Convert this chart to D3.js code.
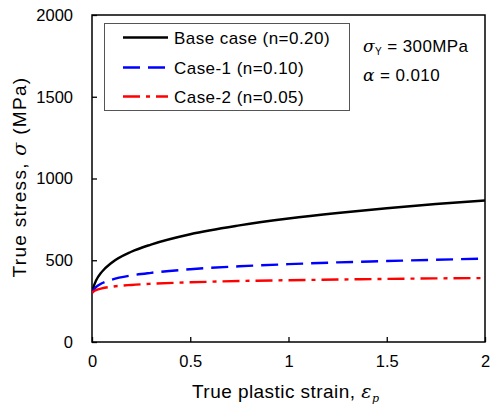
<!DOCTYPE html>
<html><head><meta charset="utf-8">
<script src="https://cdn.jsdelivr.net/npm/d3@7"></script>
<style>body{margin:0;background:#fff}text{font-family:"Liberation Sans",Arial,sans-serif;fill:#000}</style>
</head><body><svg id="c" width="492" height="411"></svg>
<script>
const strain = [0, 0.005, 0.01, 0.02, 0.05, 0.1, 0.2, 0.3, 0.5, 0.75, 1.0, 1.25, 1.5, 1.75, 2.0];
const baseCase = [300, 325, 345, 374, 429, 485, 552, 596, 659, 713, 755, 789, 818, 844, 866];
const case1 = [300, 312, 322, 335, 359, 381, 407, 423, 445, 463, 476, 487, 495, 503, 510];
const case2 = [300, 306, 311, 317, 328, 338, 349, 356, 365, 373, 378, 382, 386, 389, 391];
const seriesNames = ["Base case (n=0.20)", "Case-1 (n=0.10)", "Case-2 (n=0.05)"];
const xTicks = [0, 0.5, 1, 1.5, 2];
const yTicks = [0, 500, 1000, 1500, 2000];

const svg = d3.select("#c");
const L = 92, R = 485, T = 15, B = 342;
const x = d3.scaleLinear().domain([0, 2]).range([L, R]);
const y = d3.scaleLinear().domain([0, 2000]).range([B, T]);

const styles = [
  {color: "#000", dash: null},
  {color: "#0000ff", dash: "17,8"},
  {color: "#ff0000", dash: "17,6,4,6"}
];
const data = [baseCase, case1, case2];
const line = d3.line().x(d => x(d[0])).y(d => y(d[1])).curve(d3.curveMonotoneX);

// frame
svg.append("rect").attr("x", L).attr("y", T).attr("width", R - L).attr("height", B - T)
  .attr("fill", "none").attr("stroke", "#000").attr("stroke-width", 1.5);

// axes
const xAxis = d3.axisBottom(x).tickValues(xTicks).tickSize(-5).tickPadding(13).tickFormat(d3.format("~g"));
const gx = svg.append("g").attr("transform", `translate(0,${B})`).call(xAxis);
gx.select(".domain").remove();
gx.selectAll("line").attr("stroke", "#000").attr("stroke-width", 1.3);
gx.selectAll("text").attr("font-size", 16.5).attr("font-family", "Liberation Sans, Arial, sans-serif");

const yAxis = d3.axisLeft(y).tickValues(yTicks).tickSize(-5).tickPadding(19).tickFormat(d3.format("d"));
const gy = svg.append("g").attr("transform", `translate(${L},0)`).call(yAxis);
gy.select(".domain").remove();
gy.selectAll("line").attr("stroke", "#000").attr("stroke-width", 1.3);
gy.selectAll("text").attr("font-size", 16.5).attr("font-family", "Liberation Sans, Arial, sans-serif");

// lines
svg.append("clipPath").attr("id", "clp").append("rect")
  .attr("x", L).attr("y", T).attr("width", R - L).attr("height", B - T);
data.forEach((vals, i) => {
  const pts = strain.map((s, j) => [s, vals[j]]);
  svg.append("path").datum(pts).attr("d", line).attr("fill", "none")
    .attr("stroke", styles[i].color).attr("stroke-width", 2.4)
    .attr("stroke-dasharray", styles[i].dash).attr("clip-path", "url(#clp)");
});

// legend
svg.append("rect").attr("x", 104.5).attr("y", 23.5).attr("width", 245).attr("height", 87)
  .attr("fill", "#fff").attr("stroke", "#555").attr("stroke-width", 1);
const rowY = [37.5, 67.5, 96.5];
seriesNames.forEach((n, i) => {
  svg.append("line").attr("x1", 123).attr("x2", 168).attr("y1", rowY[i]).attr("y2", rowY[i])
    .attr("stroke", styles[i].color).attr("stroke-width", 2.4).attr("stroke-dasharray", styles[i].dash);
  svg.append("text").attr("x", 174).attr("y", rowY[i] + 6).attr("font-size", 17)
    .attr("letter-spacing", 0.45).text(n);
});

// annotations
const a1 = svg.append("text").attr("x", 363).attr("y", 52).attr("font-size", 17).attr("letter-spacing", 0.4);
a1.append("tspan").attr("font-family", "DejaVu Serif, serif").attr("font-style", "italic").text("σ");
a1.append("tspan").attr("font-size", 10).attr("dy", 3).text("Y");
a1.append("tspan").attr("dy", -3).text(" = 300MPa");
const a2 = svg.append("text").attr("x", 363).attr("y", 81).attr("font-size", 17).attr("letter-spacing", 0.4);
a2.append("tspan").attr("font-family", "DejaVu Serif, serif").attr("font-style", "italic").text("α");
a2.append("tspan").text(" = 0.010");

// axis titles
const xt = svg.append("text").attr("x", 192).attr("y", 398).attr("font-size", 19).attr("letter-spacing", 0.45);
xt.append("tspan").text("True plastic strain, ");
xt.append("tspan").attr("font-family", "DejaVu Serif, serif").attr("font-style", "italic").text("ε");
xt.append("tspan").attr("font-family", "DejaVu Serif, serif").attr("font-style", "italic").attr("font-size", 11).attr("dy", 4).text("p");

const yt = svg.append("text").attr("transform", `translate(26,${177}) rotate(-90)`)
  .attr("text-anchor", "middle").attr("font-size", 19).attr("letter-spacing", 1.3);
yt.append("tspan").text("True stress, ");
yt.append("tspan").attr("font-family", "DejaVu Serif, serif").attr("font-style", "italic").text("σ");
yt.append("tspan").text(" (MPa)");
</script></body></html>
